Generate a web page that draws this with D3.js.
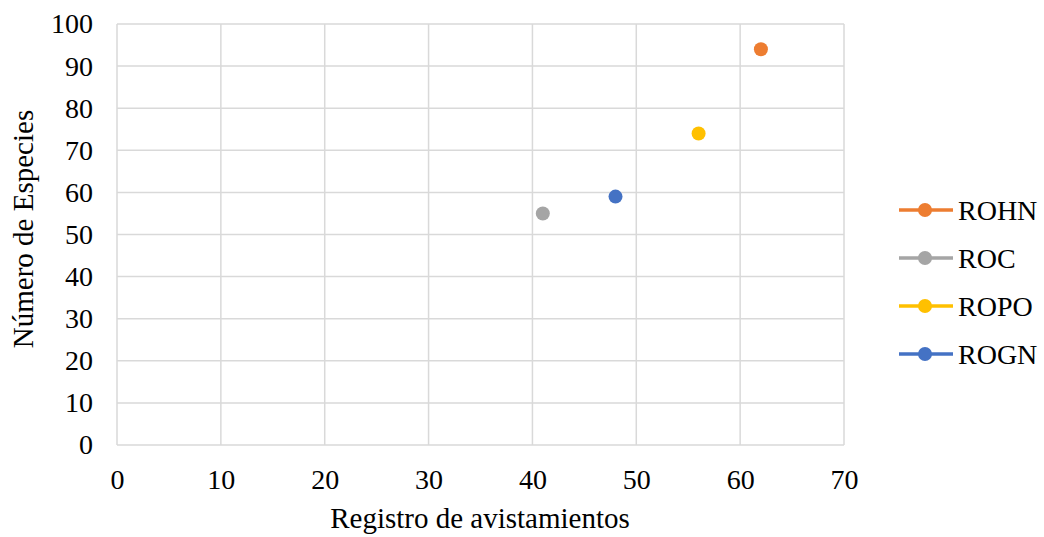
<!DOCTYPE html>
<html>
<head>
<meta charset="utf-8">
<script src="https://cdn.jsdelivr.net/npm/d3@7"></script>
<style>
  html, body { margin: 0; padding: 0; background: #fff; }
  svg { display: block; font-family: "Liberation Serif", "Times New Roman", serif; }
</style>
</head>
<body>
<svg id="chart" width="1044" height="537"></svg>
<script>
// Sites, sighting records (x) and number of species (y)
const sites = ["ROHN", "ROC", "ROPO", "ROGN"];
const registros = [62, 41, 56, 48];
const especies = [94, 55, 74, 59];
const colors = ["#ED7D31", "#A5A5A5", "#FFC000", "#4472C4"];
const xTicks = [0, 10, 20, 30, 40, 50, 60, 70];
const yTicks = [0, 10, 20, 30, 40, 50, 60, 70, 80, 90, 100];

const FONT = 28;
const TITLE_FONT = 29;
const svg = d3.select("#chart");

const x = d3.scaleLinear().domain([0, 70]).range([117, 844]);
const y = d3.scaleLinear().domain([0, 100]).range([445, 24]);

// gridlines
const grid = svg.append("g").attr("stroke", "#d9d9d9").attr("stroke-width", 1.5);
grid.selectAll("line.v").data(xTicks).join("line")
  .attr("x1", d => x(d)).attr("x2", d => x(d))
  .attr("y1", y(0)).attr("y2", y(100));
grid.selectAll("line.h").data(yTicks).join("line")
  .attr("x1", x(0)).attr("x2", x(70))
  .attr("y1", d => y(d)).attr("y2", d => y(d));

// axes (labels only; lines come from the grid)
const xAxis = svg.append("g").attr("transform", `translate(0,${y(0)})`)
  .call(d3.axisBottom(x).tickValues(xTicks).tickSize(0).tickPadding(24));
const yAxis = svg.append("g").attr("transform", `translate(${x(0)},0)`)
  .call(d3.axisLeft(y).tickValues(yTicks).tickSize(0).tickPadding(24));
[xAxis, yAxis].forEach(a => {
  a.select(".domain").remove();
  a.selectAll("text").attr("font-family", "Liberation Serif, Times New Roman, serif")
    .attr("font-size", FONT).attr("fill", "#000");
});

// points
svg.append("g").selectAll("circle").data(sites).join("circle")
  .attr("cx", (d, i) => x(registros[i]))
  .attr("cy", (d, i) => y(especies[i]))
  .attr("r", 7)
  .attr("fill", (d, i) => colors[i]);

// axis titles
svg.append("text").attr("x", 480).attr("y", 528)
  .attr("text-anchor", "middle").attr("font-size", TITLE_FONT).attr("fill", "#000")
  .text("Registro de avistamientos");
svg.append("text")
  .attr("transform", `translate(33,229) rotate(-90)`)
  .attr("text-anchor", "middle").attr("font-size", TITLE_FONT).attr("fill", "#000")
  .text("Número de Especies");

// legend
const leg = svg.append("g").selectAll("g").data(sites).join("g")
  .attr("transform", (d, i) => `translate(899,${210 + i * 48})`);
leg.append("line").attr("x1", 0).attr("x2", 54).attr("y1", 0).attr("y2", 0)
  .attr("stroke", (d, i) => colors[i]).attr("stroke-width", 3.5);
leg.append("circle").attr("cx", 26).attr("cy", 0).attr("r", 7)
  .attr("fill", (d, i) => colors[i]);
leg.append("text").attr("x", 59).attr("y", 0).attr("dy", "0.35em")
  .attr("font-size", FONT).attr("fill", "#000").text(d => d);
</script>
</body>
</html>
